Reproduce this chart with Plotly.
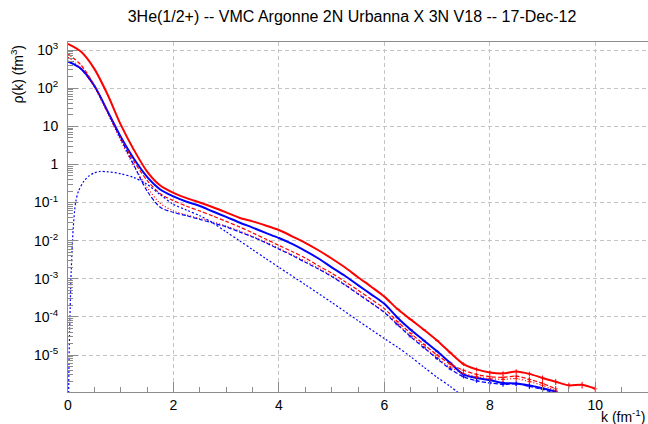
import plotly.graph_objects as go

# ---------------- data ----------------
K = [0.0, 0.25, 0.5, 0.75, 1.0, 1.25, 1.5, 1.75, 2.0, 2.25, 2.5, 2.75, 3.0, 3.25,
     3.5, 3.75, 4.0, 4.25, 4.5, 4.75, 5.0, 5.25, 5.5, 5.75, 6.0, 6.25, 6.5, 6.75,
     7.0, 7.25, 7.5, 7.75, 8.0, 8.25, 8.5, 8.75, 9.0, 9.25, 9.5, 9.75, 10.0]

# proton total (red solid)
P_TOT = [1450, 900, 320, 68, 11, 2.4, 0.65, 0.28, 0.18, 0.13, 0.10, 0.075, 0.055, 0.040,
         0.032, 0.025, 0.019, 0.013, 0.0088, 0.0056, 0.0034, 0.0020, 0.0011, 6.2e-4, 3.4e-4,
         1.6e-4, 8.5e-5, 4.6e-5, 2.4e-5, 1.15e-5, 5.8e-6, 4.2e-6, 3.5e-6, 3.3e-6, 3.7e-6,
         3.2e-6, 2.5e-6, 2.0e-6, 1.6e-6, 1.65e-6, 1.3e-6]

# neutron total (blue solid)
N_TOT = [500, 320, 115, 25, 5.3, 1.4, 0.47, 0.22, 0.145, 0.105, 0.081, 0.058, 0.042, 0.030,
         0.022, 0.016, 0.0117, 0.0082, 0.0054, 0.0034, 0.0020, 0.0012, 6.8e-4, 3.9e-4, 2.2e-4,
         9.5e-5, 4.6e-5, 2.4e-5, 1.25e-5, 6.2e-6, 3.1e-6, 2.5e-6, 2.2e-6, 1.85e-6, 1.8e-6,
         1.6e-6, 1.35e-6, 1.1e-6, None, None, None]

# proton spin component (red dashed)
P_UP = [800, 400, 118, 24, 4.9, 1.2, 0.38, 0.17, 0.112, 0.080, 0.060, 0.044, 0.032, 0.023,
        0.016, 0.011, 0.0075, 0.0052, 0.0035, 0.0022, 0.0014, 8.5e-4, 5.0e-4, 2.9e-4, 1.65e-4,
        7.5e-5, 3.7e-5, 1.9e-5, 1.0e-5, 5.8e-6, 4.0e-6, 3.1e-6, 2.7e-6, 2.6e-6, 2.8e-6,
        2.3e-6, 1.8e-6, 1.3e-6, None, None, None]

# proton other spin component (red dotted)
P_DN = [650, 330, 105, 22, 4.2, 0.9, 0.25, 0.095, 0.060, 0.047, 0.038, 0.031, 0.024, 0.018,
        0.013, 0.0092, 0.0063, 0.0043, 0.0029, 0.0019, 0.0012, 7.2e-4, 4.2e-4, 2.4e-4, 1.35e-4,
        6.5e-5, 3.2e-5, 1.65e-5, 8.5e-6, 4.8e-6, 3.3e-6, 2.7e-6, 2.4e-6, 2.3e-6, 2.4e-6,
        2.0e-6, 1.6e-6, 1.15e-6, None, None, None]

# neutron spin-up component (blue dashed)
N_UP = [500, 318, 113, 24, 4.7, 0.95, 0.20, 0.075, 0.055, 0.045, 0.036, 0.029, 0.023, 0.017,
        0.0125, 0.0088, 0.0060, 0.0041, 0.0027, 0.0018, 0.00115, 6.9e-4, 4.0e-4, 2.3e-4, 1.3e-4,
        6.2e-5, 3.0e-5, 1.55e-5, 8.0e-6, 4.3e-6, 2.7e-6, 2.1e-6, 1.85e-6, 1.7e-6, 1.75e-6,
        1.5e-6, 1.25e-6, 1.0e-6, None, None, None]

# relative statistical error per k point
ERR_FRAC = [0, 0, 0, 0, 0, 0, 0, 0, 0, 0, 0, 0, 0, 0, 0, 0, 0, 0, 0, 0, 0, 0, 0, 0, 0,
            0.03, 0.04, 0.05, 0.06, 0.08, 0.10, 0.12, 0.13, 0.14, 0.14, 0.15, 0.16, 0.18,
            0.18, 0.20, 0.20]

# neutron spin-down component (blue dotted), own k grid
K_NDN = [0.012, 0.02, 0.03, 0.045, 0.06, 0.08, 0.1, 0.125, 0.15, 0.2, 0.3, 0.4, 0.5, 0.6,
         0.75, 1.0, 1.25, 1.5, 1.75, 2.0, 2.25, 2.5, 2.75, 3.0, 3.25, 3.5, 3.75, 4.0, 4.5,
         5.0, 5.5, 6.0, 6.25, 6.5, 6.75, 7.0, 7.25, 7.5]
N_DN = [1.0e-6, 8e-6, 4e-5, 2.8e-4, 1.5e-3, 7e-3, 0.022, 0.06, 0.11, 0.2, 0.36, 0.5, 0.6,
        0.65, 0.64, 0.57, 0.45, 0.30, 0.16, 0.09, 0.063, 0.045, 0.029, 0.017, 0.010, 0.0058,
        0.0034, 0.002, 7e-4, 2.4e-4, 8e-5, 2.7e-5, 1.6e-5, 9e-6, 4.8e-6, 2.6e-6, 1.5e-6, 8e-7]

TITLE = "3He(1/2+) -- VMC Argonne 2N Urbanna X 3N V18 -- 17-Dec-12"
Y_TICKS = [1e-5, 1e-4, 1e-3, 1e-2, 1e-1, 1, 10, 1e2, 1e3]
Y_TICKTEXT = ["10<sup>-5</sup>", "10<sup>-4</sup>", "10<sup>-3</sup>", "10<sup>-2</sup>",
              "10<sup>-1</sup>", "1", "10", "10<sup>2</sup>", "10<sup>3</sup>"]
X_TICKS = [0, 2, 4, 6, 8, 10]

RED = "#ff0000"
BLUE = "#0000ff"

fig = go.Figure()


def add_series(x, y, color, width, dash, errfrac=None):
    err = None
    msize = 0
    if errfrac is not None:
        err = [(v * f if v is not None else None) for v, f in zip(y, errfrac)]
        msize = [3 if f > 0 else 0 for f in errfrac]
    fig.add_trace(go.Scatter(
        x=x, y=y, mode="lines+markers" if errfrac is not None else "lines",
        line=dict(color=color, width=width, dash=dash, shape="spline", smoothing=0.8),
        marker=dict(color=color, size=msize, symbol="line-ew-open",
                    line=dict(color=color, width=1)),
        error_y=dict(type="data", array=err, visible=err is not None,
                     color=color, thickness=1, width=0),
        hoverinfo="skip", connectgaps=False,
    ))


add_series(K, P_TOT, RED, 2, "solid", ERR_FRAC)
add_series(K, N_TOT, BLUE, 2, "solid", ERR_FRAC)
add_series(K, P_UP, RED, 1.2, "4px,2px", ERR_FRAC)
add_series(K, P_DN, RED, 1.2, "1px,2px", ERR_FRAC)
add_series(K, N_UP, BLUE, 1.2, "4px,2px", ERR_FRAC)
add_series(K_NDN, N_DN, BLUE, 1.2, "2px,2px")

AX_GRAY = "#8c8c8c"
GRID = "#c4c4c4"
FONT = "Liberation Sans, Arial, Helvetica, sans-serif"

fig.update_layout(
    width=648, height=424,
    margin=dict(l=68, r=0, t=42, b=32, pad=0),
    paper_bgcolor="white", plot_bgcolor="white",
    showlegend=False,
    font=dict(family=FONT, size=14, color="black"),
    title=dict(text=TITLE, xref="container", yref="container",
               x=352 / 648, y=1 - 16 / 424, xanchor="center", yanchor="middle",
               font=dict(size=16, family=FONT, color="black")),
    xaxis=dict(
        range=[0, 11], tickmode="array", tickvals=X_TICKS,
        ticks="inside", ticklen=10, tickcolor=AX_GRAY, tickwidth=1,
        showline=True, linecolor=AX_GRAY, linewidth=1, mirror=True,
        showgrid=True, gridcolor=GRID, griddash="4px,3px", gridwidth=1,
        zeroline=False, tickfont=dict(size=14, family=FONT),
        minor=dict(dtick=0.5, ticks="inside", ticklen=5, tickcolor=AX_GRAY, showgrid=False),
    ),
    yaxis=dict(
        type="log", range=[-5.97, 3.21], tickmode="array", tickvals=Y_TICKS,
        ticktext=Y_TICKTEXT,
        ticks="inside", ticklen=10, tickcolor=AX_GRAY, tickwidth=1,
        showline=True, linecolor=AX_GRAY, linewidth=1, mirror=True,
        showgrid=True, gridcolor=GRID, griddash="4px,3px", gridwidth=1,
        zeroline=False, tickfont=dict(size=14, family=FONT),
        ticklabelstandoff=6,
        minor=dict(dtick="D1", ticks="inside", ticklen=5, tickcolor=AX_GRAY, showgrid=False),
    ),
)

fig.add_annotation(text="ρ(k) (fm<sup>3</sup>)", xref="paper", yref="paper",
                   x=(17 - 68) / 580, y=(392 - 43) / 350, textangle=-90,
                   xanchor="center", yanchor="top", showarrow=False,
                   font=dict(size=14, family=FONT))
fig.add_annotation(text="k (fm<sup>-1</sup>)", xref="paper", yref="paper",
                   x=1.0, y=(392 - 416) / 350,
                   xanchor="right", yanchor="middle", showarrow=False,
                   font=dict(size=14, family=FONT))

fig.write_html("out.html")
